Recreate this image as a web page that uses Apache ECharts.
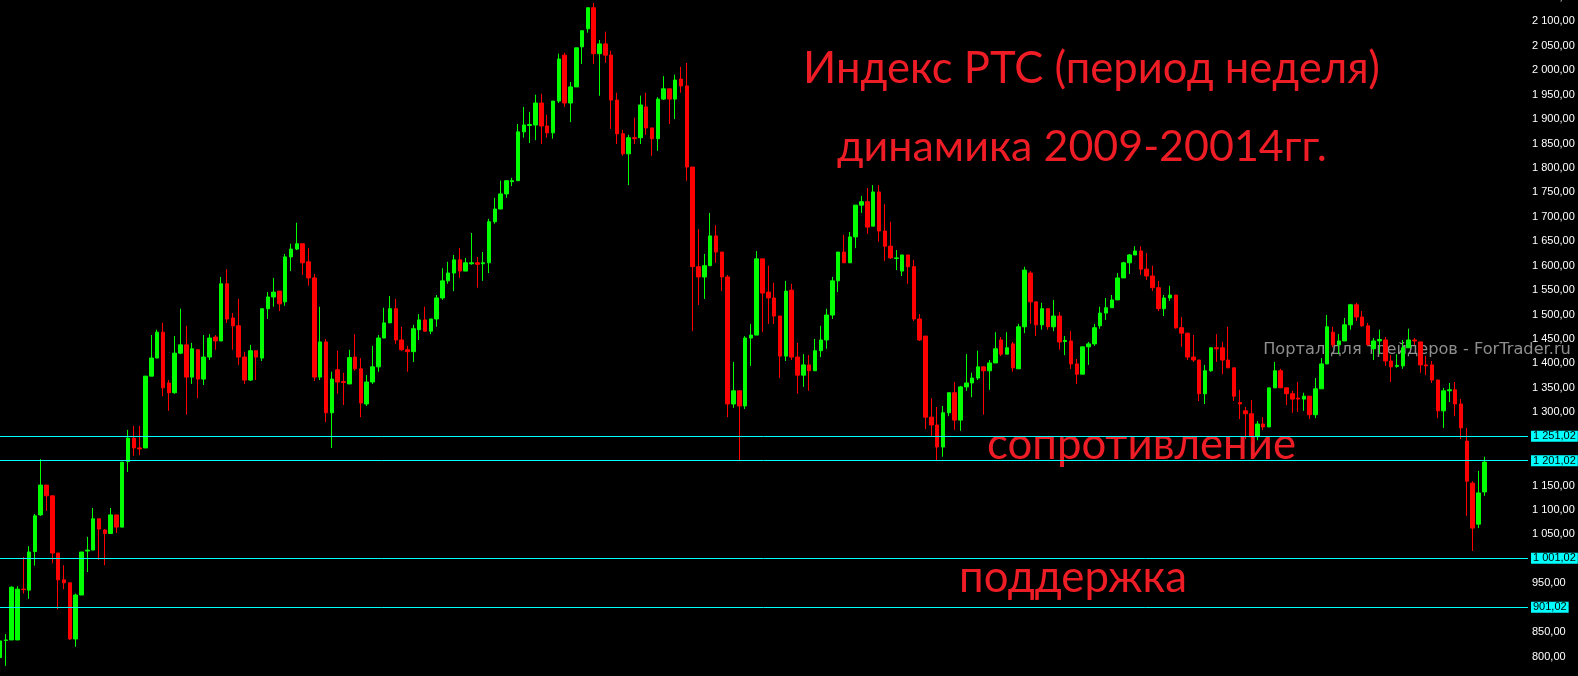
<!DOCTYPE html>
<html>
<head>
<meta charset="utf-8">
<script src="https://cdn.jsdelivr.net/npm/echarts@6/dist/echarts.min.js"></script>
<style>
  html, body { margin: 0; padding: 0; background: #000; }
  #chart { width: 1578px; height: 676px; }
</style>
</head>
<body>
<div id="chart"></div>
<script>
// недельные свечи индекса РТС
var opens = [798,833,834,834,938,936,1015,1090,1151,1129,1012,957,951,836,926,1016,1018,1082,1059,1052,
  1090,1065,1199,1247,1227,1227,1374,1411,1464,1360,1340,1421,1438,1372,1428,1368,1413,1454,1446,1563,
  1493,1477,1413,1366,1426,1411,1512,1536,1548,1526,1618,1634,1645,1608,1575,1372,1444,1299,1387,1363,
  1358,1413,1389,1317,1362,1393,1452,1483,1512,1448,1428,1424,1469,1489,1466,1491,1534,1569,1585,1612,
  1589,1604,1606,1604,1606,1690,1716,1747,1772,1774,1874,1887,1888,1933,1886,1872,1937,2031,1933,1966,
  2048,2085,2128,2034,2054,2031,1939,1870,1829,1862,1862,1925,1882,1860,1941,1962,1941,1982,1968,1802,
  1598,1577,1600,1661,1628,1577,1317,1344,1313,1452,1458,1614,1546,1534,1497,1415,1550,1413,1376,1397,
  1385,1426,1448,1499,1569,1628,1606,1659,1724,1731,1681,1751,1671,1640,1615,1589,1622,1598,1491,1456,
  1290,1274,1229,1299,1340,1284,1352,1360,1370,1393,1385,1401,1448,1419,1440,1389,1475,1585,1526,1479,
  1512,1475,1497,1445,1446,1399,1378,1434,1440,1477,1503,1514,1530,1575,1606,1622,1630,1593,1579,1555,
  1512,1534,1540,1473,1462,1413,1407,1338,1385,1432,1432,1407,1391,1320,1303,1297,1250,1276,1270,1350,
  1385,1350,1338,1329,1327,1333,1295,1348,1399,1464,1438,1446,1479,1520,1495,1477,1430,1446,1448,1405,
  1394,1395,1432,1448,1444,1397,1397,1366,1303,1344,1346,1317,1241,1155,1071,1137];
var closes = [832,834,942,938,937,1014,1088,1151,1129,1012,957,951,836,926,1014,1018,1082,1061,1052,1090,
  1065,1198,1247,1227,1225,1374,1411,1464,1350,1340,1421,1438,1372,1430,1368,1413,1452,1446,1563,1491,
  1477,1413,1366,1426,1413,1512,1536,1546,1522,1618,1634,1645,1606,1575,1372,1444,1299,1368,1362,1361,
  1412,1389,1319,1362,1393,1452,1483,1512,1448,1428,1424,1471,1489,1466,1491,1534,1569,1585,1612,1589,
  1606,1606,1603,1606,1690,1716,1747,1774,1774,1874,1888,1889,1933,1886,1872,1937,2023,1933,1966,2046,
  2081,2128,2034,2054,2031,1939,1870,1829,1862,1860,1929,1882,1860,1941,1962,1941,1980,1968,1802,1598,
  1577,1600,1661,1628,1577,1317,1344,1313,1452,1458,1614,1544,1534,1497,1415,1548,1413,1376,1397,1385,
  1426,1448,1499,1569,1628,1606,1659,1724,1731,1679,1751,1671,1640,1616,1616,1622,1598,1491,1448,1290,
  1274,1229,1299,1340,1284,1352,1360,1370,1393,1385,1401,1430,1419,1432,1391,1475,1591,1526,1479,1512,
  1475,1497,1444,1447,1399,1378,1434,1440,1473,1503,1514,1530,1575,1606,1622,1630,1593,1579,1555,1512,
  1534,1540,1473,1462,1413,1407,1338,1385,1432,1430,1407,1391,1333,1317,1297,1250,1276,1270,1350,1385,
  1350,1338,1327,1327,1333,1295,1348,1399,1475,1438,1446,1479,1520,1495,1477,1438,1446,1449,1405,1393,
  1396,1432,1448,1446,1397,1395,1366,1303,1344,1346,1317,1268,1159,1063,1135,1198];
var lows = [793,781,834,834,929,918,986,1088,1098,991,897,938,834,820,926,973,1018,998,987,1051,
  1053,1065,1178,1211,1212,1227,1374,1411,1333,1303,1338,1419,1295,1358,1329,1356,1407,1428,1446,1483,
  1428,1397,1358,1364,1366,1405,1491,1516,1507,1518,1589,1632,1581,1559,1364,1366,1280,1227,1338,1315,
  1358,1385,1290,1313,1358,1383,1452,1483,1440,1426,1383,1403,1448,1466,1460,1475,1530,1563,1548,1575,
  1589,1602,1555,1569,1585,1686,1716,1739,1763,1774,1862,1851,1857,1849,1862,1860,1933,1925,1894,1966,
  2013,2077,2013,1948,2015,1880,1849,1825,1765,1849,1849,1868,1825,1835,1939,1890,1900,1954,1774,1466,
  1520,1532,1600,1606,1548,1290,1309,1202,1307,1395,1458,1464,1481,1481,1370,1405,1407,1338,1352,1344,
  1385,1413,1430,1491,1546,1606,1606,1636,1708,1665,1681,1649,1610,1614,1591,1579,1563,1487,1446,1266,
  1252,1202,1209,1292,1264,1262,1344,1331,1366,1295,1346,1401,1415,1419,1383,1389,1462,1481,1456,1469,
  1469,1466,1428,1417,1389,1358,1378,1397,1436,1471,1489,1514,1530,1575,1583,1622,1581,1571,1548,1507,
  1497,1528,1471,1434,1407,1403,1323,1317,1383,1403,1378,1391,1323,1286,1245,1237,1243,1264,1270,1350,
  1350,1315,1299,1301,1303,1286,1288,1348,1399,1433,1419,1446,1469,1487,1475,1438,1407,1419,1395,1362,
  1391,1389,1432,1438,1381,1376,1360,1288,1268,1321,1292,1245,1088,1016,1063,1129];
var highs = [838,846,944,944,1004,1026,1092,1204,1151,1129,1012,987,951,929,1014,1045,1104,1082,1061,1104,
  1090,1198,1264,1272,1272,1374,1458,1469,1483,1366,1456,1512,1477,1442,1428,1458,1460,1458,1577,1593,
  1503,1532,1424,1438,1426,1512,1546,1575,1548,1624,1645,1688,1645,1636,1583,1516,1450,1383,1426,1381,
  1428,1460,1411,1376,1436,1458,1514,1538,1532,1475,1436,1479,1501,1516,1491,1540,1595,1608,1622,1636,
  1616,1667,1618,1628,1696,1739,1774,1774,1780,1890,1925,1915,1950,1952,1909,1937,2034,2036,1976,2046,
  2081,2128,2138,2062,2079,2040,1954,1878,1868,1903,1948,1954,1882,1945,1988,1962,1991,2007,2015,1802,
  1675,1624,1708,1683,1628,1581,1403,1344,1456,1481,1630,1614,1600,1565,1497,1569,1563,1442,1419,1417,
  1450,1477,1512,1577,1628,1663,1669,1724,1743,1759,1765,1765,1726,1690,1632,1622,1622,1612,1501,1456,
  1329,1311,1313,1340,1362,1354,1419,1381,1426,1393,1407,1464,1454,1464,1444,1481,1598,1589,1526,1524,
  1512,1530,1505,1456,1466,1409,1434,1444,1481,1516,1534,1540,1585,1608,1624,1640,1640,1626,1600,1569,
  1540,1559,1540,1495,1462,1458,1407,1397,1432,1460,1444,1475,1391,1346,1311,1325,1282,1290,1350,1403,
  1389,1350,1344,1362,1340,1333,1370,1411,1499,1475,1460,1493,1522,1524,1507,1483,1452,1469,1454,1417,
  1419,1448,1471,1452,1444,1415,1405,1366,1350,1360,1362,1327,1268,1159,1180,1209];

// уровни сопротивления и поддержки
var levels = [1251.02, 1201.02, 1001.02, 901.02];
// метки шкалы, которые скрыты под уровнями
var hiddenTicks = [1250, 1200, 1000, 900];

var emptyWeeks = 7; // пустое место справа
var weeks = [];
for (var i = 0; i < opens.length + emptyWeeks; i++) {
  weeks.push('W' + (i + 1));
}

var candles = [];
for (var k = 0; k < opens.length; k++) {
  candles.push([opens[k], closes[k], lows[k], highs[k]]);
}

function fmtPrice(v) {
  var s = v.toFixed(2).split('.');
  var n = s[0];
  if (n.length > 3) n = n.slice(0, -3) + ' ' + n.slice(-3);
  return n + ',' + s[1];
}

// подбор размера шрифта под ширину надписи
var measureCtx = document.createElement('canvas').getContext('2d');
function fitSize(text, family, width) {
  measureCtx.font = '100px ' + family;
  return 100 * width / measureCtx.measureText(text).width;
}
function middleY(text, size, family, baseline) {
  measureCtx.font = size + 'px ' + family;
  measureCtx.textBaseline = 'alphabetic';
  var a1 = measureCtx.measureText('H').actualBoundingBoxAscent;
  measureCtx.textBaseline = 'middle';
  var a2 = measureCtx.measureText('H').actualBoundingBoxAscent;
  measureCtx.textBaseline = 'alphabetic';
  return baseline - (a1 - a2);
}
function label(text, family, left, right, baseline, color, z) {
  var size = fitSize(text, family, right - left);
  return {
    type: 'text',
    x: (left + right) / 2,
    y: middleY(text, size, family, baseline),
    z: z,
    silent: true,
    style: {
      text: text,
      fill: color,
      font: size.toFixed(2) + 'px ' + family,
      align: 'center',
      verticalAlign: 'middle'
    }
  };
}

var myChart = echarts.init(document.getElementById('chart'));
myChart.setOption({
  backgroundColor: '#000000',
  animation: false,
  graphic: [
    label('Портал для трейдеров - ForTrader.ru', '"DejaVu Sans"', 1263, 1571, 354, '#8e8e8e', -10),
    label('Индекс РТС (период неделя)', 'Lato', 803, 1380, 83, '#ee1c25', 0),
    label('динамика 2009-20014гг.', 'Lato', 837, 1327, 161, '#ee1c25', 0),
    label('сопротивление', 'Lato', 987, 1296, 459, '#ee1c25', 0),
    label('поддержка', 'Lato', 959, 1187, 592, '#ee1c25', 0)
  ],
  grid: {
    left: -2.91,
    right: 50,
    top: -3,
    bottom: -5,
    outerBoundsMode: 'none'
  },
  xAxis: {
    type: 'category',
    data: weeks,
    boundaryGap: true,
    show: false
  },
  yAxis: {
    type: 'value',
    position: 'right',
    min: 750,
    max: 2150,
    interval: 50,
    axisLine: { show: false },
    axisTick: { show: false },
    splitLine: { show: false },
    axisLabel: {
      margin: 4,
      showMinLabel: true,
      showMaxLabel: true,
      hideOverlap: false,
      color: '#ffffff',
      fontSize: 11,
      fontFamily: '"Liberation Sans", Arial, sans-serif',
      formatter: function (v) {
        if (hiddenTicks.indexOf(v) >= 0) return '';
        return fmtPrice(v);
      }
    }
  },
  series: [{
    name: 'RTS',
    type: 'candlestick',
    data: candles,
    barWidth: 4,
    itemStyle: {
      color: '#00ff00',
      color0: '#ff0000',
      borderColor: '#00ff00',
      borderColor0: '#ff0000',
      borderWidth: 1
    },
    markLine: {
      silent: true,
      symbol: ['none', 'none'],
      animation: false,
      lineStyle: { color: '#00ffff', width: 1, type: 'solid' },
      label: {
        position: 'end',
        distance: 3,
        color: '#000000',
        backgroundColor: '#00ffff',
        fontSize: 11,
        fontFamily: '"Liberation Sans", Arial, sans-serif',
        lineHeight: 11,
        padding: [0, 2, 0, 2],
        formatter: function (p) { return fmtPrice(p.value); }
      },
      emphasis: { disabled: true },
      data: levels.map(function (v) { return { yAxis: v }; })
    }
  }]
});
</script>
</body>
</html>
